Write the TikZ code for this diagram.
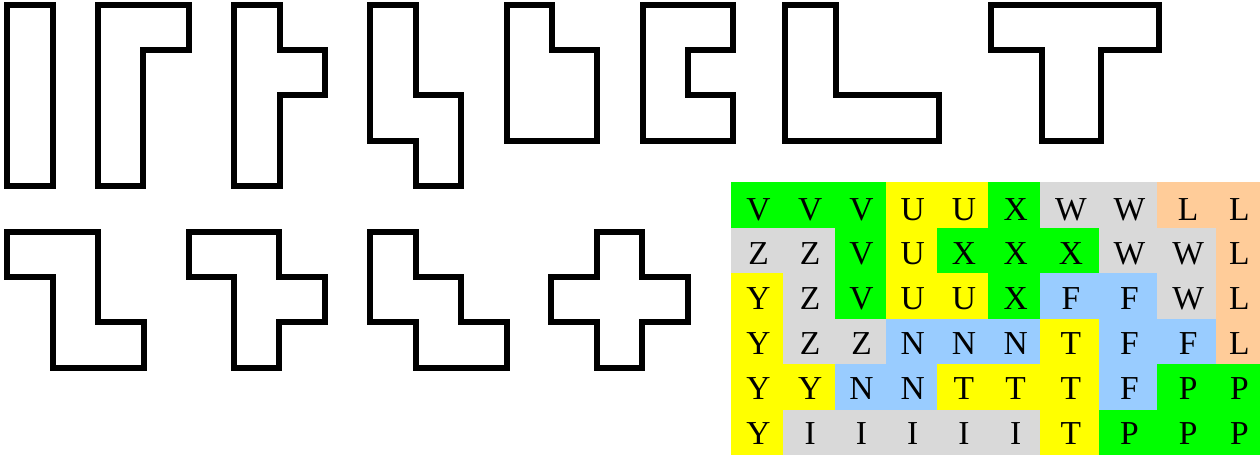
\documentclass[tikz,border=0pt]{standalone}
\usepackage{fontspec}
\setmainfont{Liberation Serif}
\definecolor{cG}{HTML}{00FF00}
\definecolor{cY}{HTML}{FFFF00}
\definecolor{cR}{HTML}{D9D9D9}
\definecolor{cB}{HTML}{99CCFF}
\definecolor{cO}{HTML}{FFCC99}
\tikzset{
  pento/.style={draw=black, line width=6pt, line join=miter},
  cellletter/.style={anchor=base, inner sep=0pt, font=\fontsize{33.5}{33.5}\selectfont}
}
\begin{document}
\begin{tikzpicture}[x=1pt, y=-1pt]
\useasboundingbox (0,0) rectangle (1260,455);
% ---------- top row of pieces ----------
% I
\draw[pento] (7.3,5) -- (52.7,5) -- (52.7,186) -- (7.3,186) -- cycle;
% L
\draw[pento] (98.3,5) -- (189,5) -- (189,50) -- (143.3,50) -- (143.3,186) -- (98.3,186) -- cycle;
% Y
\draw[pento] (234,5) -- (280,5) -- (280,50) -- (325,50) -- (325,95.3) -- (280,95.3) -- (280,186) -- (234,186) -- cycle;
% N
\draw[pento] (370,5) -- (416,5) -- (416,95.3) -- (461,95.3) -- (461,186) -- (416,186) -- (416,140.7) -- (370,140.7) -- cycle;
% P
\draw[pento] (506.7,5) -- (551.8,5) -- (551.8,50) -- (596.8,50) -- (596.8,140.7) -- (506.7,140.7) -- cycle;
% U
\draw[pento] (642.8,5) -- (732.8,5) -- (732.8,50) -- (687.8,50) -- (687.8,95.3) -- (732.8,95.3) -- (732.8,140.7) -- (642.8,140.7) -- cycle;
% V
\draw[pento] (784.5,5) -- (836,5) -- (836,95.3) -- (939.2,95.3) -- (939.2,140.7) -- (784.5,140.7) -- cycle;
% T
\draw[pento] (990.8,5) -- (1159.2,5) -- (1159.2,50) -- (1100.8,50) -- (1100.8,140.7) -- (1041.8,140.7) -- (1041.8,50) -- (990.8,50) -- cycle;
% ---------- second row of pieces ----------
% Z
\draw[pento] (7.3,231.7) -- (97.7,231.7) -- (97.7,322.3) -- (144,322.3) -- (144,367.7) -- (52.7,367.7) -- (52.7,276.8) -- (7.3,276.8) -- cycle;
% F
\draw[pento] (189,231.7) -- (279.3,231.7) -- (279.3,276.8) -- (325,276.8) -- (325,322.3) -- (279.3,322.3) -- (279.3,367.7) -- (234,367.7) -- (234,276.8) -- (189,276.8) -- cycle;
% W
\draw[pento] (370,231.7) -- (416,231.7) -- (416,276.8) -- (461,276.8) -- (461,322.3) -- (506.7,322.3) -- (506.7,367.7) -- (416,367.7) -- (416,322.3) -- (370,322.3) -- cycle;
% X
\draw[pento] (596.7,231.7) -- (642.3,231.7) -- (642.3,276.8) -- (687.7,276.8) -- (687.7,322.3) -- (642.3,322.3) -- (642.3,367.7) -- (596.7,367.7) -- (596.7,322.3) -- (551,322.3) -- (551,276.8) -- (596.7,276.8) -- cycle;
% ---------- solution grid ----------
\def\xs{{731.7,783.3,835,886,937.3,988.6,1040.7,1099,1157.7,1216.7,1260}}
\def\ys{{182.5,228,273.5,319,364.5,410,455}}
\foreach \rowdata [count=\r] in {
  {V/G,V/G,V/G,U/Y,U/Y,X/G,W/R,W/R,L/O,L/O},
  {Z/R,Z/R,V/G,U/Y,X/G,X/G,X/G,W/R,W/R,L/O},
  {Y/Y,Z/R,V/G,U/Y,U/Y,X/G,F/B,F/B,W/R,L/O},
  {Y/Y,Z/R,Z/R,N/B,N/B,N/B,T/Y,F/B,F/B,L/O},
  {Y/Y,Y/Y,N/B,N/B,T/Y,T/Y,T/Y,F/B,P/G,P/G},
  {Y/Y,I/R,I/R,I/R,I/R,I/R,T/Y,P/G,P/G,P/G}}
{
  \foreach \L/\C [count=\c] in \rowdata {
    \pgfmathsetmacro{\xa}{\xs[\c-1]}
    \pgfmathsetmacro{\xb}{\xs[\c]}
    \pgfmathsetmacro{\ya}{\ys[\r-1]}
    \pgfmathsetmacro{\yb}{\ys[\r]}
    \pgfmathsetmacro{\xm}{(\xa+\xb)/2+1}
    \pgfmathsetmacro{\bl}{220+44.8*(\r-1)}
    \fill[c\C] (\xa-0.4,\ya-0.4) rectangle (\xb+0.4,\yb+0.4);
    \node[cellletter] (g-\r-\c) at (\xm,\bl) {\L};
  }
}
\end{tikzpicture}
\end{document}
